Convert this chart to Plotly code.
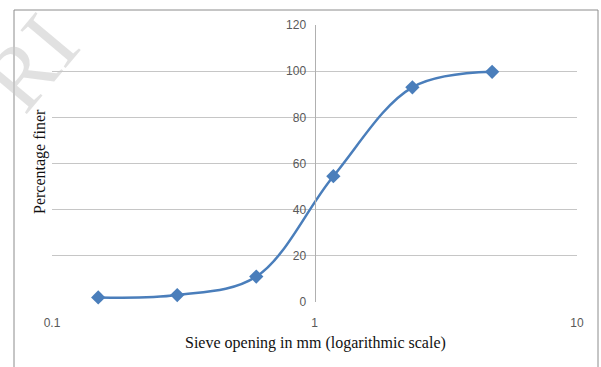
import plotly.graph_objects as go

sieve_mm = [0.15, 0.3, 0.6, 1.18, 2.36, 4.75]
percent_finer = [2, 3, 11, 54.5, 93, 99.7]
x_tick_vals = [0.1, 1, 10]
x_tick_text = ["0.1", "1", "10"]
y_tick_vals = [0, 20, 40, 60, 80, 100, 120]

W, H = 601, 367
L, R, T, B = 52, 24, 25, 65
pw, ph = W - L - R, H - T - B

def px_x(p):
    return (p - L) / pw

def px_y(p):
    return (H - B - p) / ph

fig = go.Figure()
fig.add_trace(go.Scatter(
    x=sieve_mm, y=percent_finer, mode="lines+markers",
    line=dict(color="#4a7ebb", width=2.5, shape="spline", smoothing=1.0),
    marker=dict(symbol="diamond", size=11, color="#4a7ebb"),
    showlegend=False, cliponaxis=False,
))

fig.update_layout(
    width=W, height=H,
    margin=dict(l=L, r=R, t=T, b=B),
    paper_bgcolor="white", plot_bgcolor="white",
    xaxis=dict(type="log", range=[-1, 1], tickvals=x_tick_vals, ticktext=x_tick_text,
               showgrid=False, zeroline=False, showline=False,
               ticks="", ticklabelstandoff=12,
               tickfont=dict(family="Liberation Sans", size=12, color="#595959")),
    yaxis=dict(range=[0, 120], tickvals=y_tick_vals, anchor="free", position=0.5,
               showgrid=True, gridcolor="#c6c6c6", gridwidth=1, zeroline=False,
               showline=True, linecolor="#b0b0b0", linewidth=1,
               ticks="", ticklabelstandoff=6,
               tickfont=dict(family="Liberation Sans", size=12, color="#595959")),
    shapes=[dict(type="rect", xref="paper", yref="paper",
                 x0=px_x(14), x1=px_x(598), y0=px_y(380), y1=px_y(10),
                 line=dict(color="#8c8c8c", width=1), layer="below")],
    annotations=[
        dict(text="Sieve opening in mm (logarithmic scale)", xref="paper", yref="paper",
             x=px_x(315), y=px_y(343), showarrow=False, xanchor="center", yanchor="middle",
             font=dict(family="Liberation Serif", size=16, color="#111111")),
        dict(text="Percentage finer", xref="paper", yref="paper", textangle=-90,
             x=px_x(40), y=px_y(162), showarrow=False, xanchor="center", yanchor="middle",
             font=dict(family="Liberation Serif", size=16, color="#111111")),
        dict(text="RI", xref="paper", yref="paper", textangle=-50,
             x=px_x(30), y=px_y(62), showarrow=False, xanchor="center", yanchor="middle",
             font=dict(family="Liberation Serif", size=90, color="rgba(200,200,200,0.55)")),
    ],
)

fig.write_html("out.html")
